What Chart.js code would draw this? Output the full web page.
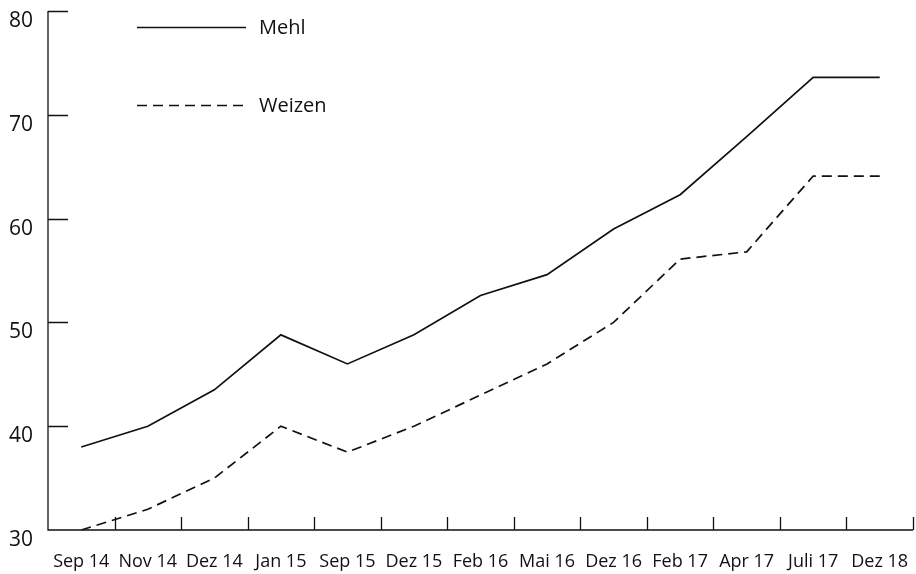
<!doctype html>
<html>
<head>
    <title>Mehl und Weizen</title>
    <script src="https://cdn.jsdelivr.net/npm/chart.js@4.4.0/dist/chart.umd.min.js"></script>
    <style>
        html, body { margin: 0; padding: 0; background: #fff; }
        #wrap { width: 916px; height: 574px; }
    </style>
</head>
<body>
    <div id="wrap"><canvas id="canvas" width="916" height="574"></canvas></div>
    <script>
        var labels = ['Sep 14', 'Nov 14', 'Dez 14', 'Jan 15', 'Sep 15', 'Dez 15', 'Feb 16', 'Mai 16', 'Dez 16', 'Feb 17', 'Apr 17', 'Juli 17', 'Dez 18'];
        var mehl = [38, 40, 43.5, 48.8, 46, 48.8, 52.6, 54.6, 59, 62.3, 67.9, 73.6, 73.6];
        var weizen = [30, 32, 35, 40, 37.5, 40, 43, 46, 50, 56.1, 56.8, 64.1, 64.1];
        var yTicks = [30, 40, 50, 60, 70, 80];

        var FONT = '"Open Sans", sans-serif';
        var INK = '#111';

        // axis lines, inward tick marks and the legend at the top left
        var decor = {
            id: 'decor',
            afterDraw: function(chart) {
                var c = chart.ctx, a = chart.chartArea;
                var xs = chart.scales.x, ys = chart.scales.y;
                c.save();
                c.strokeStyle = INK;
                c.lineWidth = 1.3;
                c.beginPath();
                c.moveTo(a.left, a.top); c.lineTo(a.left, a.bottom); c.lineTo(a.right, a.bottom);
                yTicks.forEach(function(v) {
                    if (v === yTicks[0]) return;
                    var py = Math.round(ys.getPixelForValue(v)) + 0.5;
                    c.moveTo(a.left, py); c.lineTo(a.left + 20, py);
                });
                for (var i = 0; i < labels.length; i++) {
                    var px = i < labels.length - 1
                        ? (xs.getPixelForValue(i) + xs.getPixelForValue(i + 1)) / 2
                        : a.right;
                    px = Math.round(px) + 0.5;
                    c.moveTo(px, a.bottom); c.lineTo(px, a.bottom - 13);
                }
                c.stroke();

                c.font = '20px ' + FONT;
                c.fillStyle = INK;
                c.textBaseline = 'middle';
                var rows = [27, 105];
                chart.data.datasets.forEach(function(ds, k) {
                    var y = rows[k] + 0.5;
                    c.beginPath();
                    c.lineWidth = ds.borderWidth;
                    c.setLineDash(ds.borderDash || []);
                    c.moveTo(137, y); c.lineTo(246, y);
                    c.stroke();
                    c.setLineDash([]);
                    c.fillText(ds.label, 259, y + 1);
                });
                c.restore();
            }
        };

        var config = {
            type: 'line',
            data: {
                labels: labels,
                datasets: [
                    { label: 'Mehl', data: mehl, borderColor: INK, borderWidth: 1.7, pointRadius: 0, tension: 0, fill: false },
                    { label: 'Weizen', data: weizen, borderColor: INK, borderWidth: 1.7, borderDash: [10, 6], pointRadius: 0, tension: 0, fill: false }
                ]
            },
            options: {
                responsive: false,
                animation: false,
                layout: { padding: { top: 11, right: 3, left: 0, bottom: 0 } },
                plugins: { legend: { display: false }, tooltip: { enabled: false }, title: { display: false } },
                scales: {
                    x: {
                        offset: true,
                        grid: { display: false, offset: true },
                        border: { display: false },
                        ticks: { color: INK, font: { family: FONT, size: 18 }, padding: 13, maxRotation: 0, autoSkip: false },
                        afterFit: function(s) { s.height = 44; s.paddingLeft = 0; s.paddingRight = 0; }
                    },
                    y: {
                        min: 30, max: 80,
                        grid: { display: false },
                        border: { display: false },
                        afterBuildTicks: function(s) { s.ticks = yTicks.map(function(v) { return { value: v }; }); },
                        ticks: { color: INK, font: { family: FONT, size: 21 }, padding: 7, labelOffset: 10 },
                        afterFit: function(s) { s.width = 48; s.paddingTop = 0; s.paddingBottom = 0; }
                    }
                }
            },
            plugins: [decor]
        };

        window.onload = function() {
            var ctx = document.getElementById('canvas').getContext('2d');
            window.myLine = new Chart(ctx, config);
        };
    </script>
</body>
</html>
